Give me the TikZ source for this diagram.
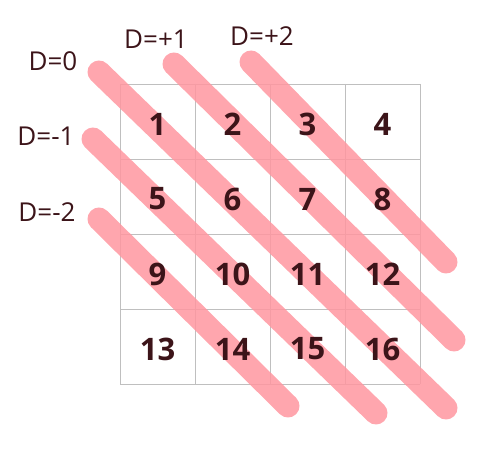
\documentclass[tikz,border=0pt]{standalone}
\usepackage{fontspec}
\setmainfont{Open Sans}
\definecolor{diagpink}{RGB}{255,150,160}
\definecolor{numcol}{RGB}{60,20,25}

\begin{document}
\begin{tikzpicture}[x=1pt,y=-1pt,
    diag/.style={diagpink,line width=23pt,line cap=round,opacity=0.85},
    num/.style={numcol,font=\fontsize{31}{37}\selectfont\bfseries},
    lab/.style={numcol,font=\fontsize{26}{31}\selectfont}]
  \useasboundingbox (0,0) rectangle (488,449);
  % grid of cells
  \foreach \k in {0,...,4} {
    \draw[gray!50] (120+75*\k,84) -- (120+75*\k,384);
    \draw[gray!50] (120,84+75*\k) -- (420,84+75*\k);
  }
  % diagonals
  \draw[diag] (99,72) -- (446,408);
  \draw[diag] (174,64) -- (454,340);
  \draw[diag] (251,62) -- (446,262);
  \draw[diag] (93,139) -- (376,413);
  \draw[diag] (99,219) -- (288,406);
  % numbers
  \foreach \r in {0,...,3} {
    \foreach \c in {0,...,3} {
      \pgfmathtruncatemacro\n{4*\r+\c+1}
      \node[num] (n\n) at (157.5+75*\c,124+75*\r) {\n};
    }
  }
  \node[lab] (dzero) at (53,61) {D=0};
  \node[lab] (dpone) at (156,39) {D=+1};
  \node[lab] (dptwo) at (262,36) {D=+2};
  \node[lab] (dmone) at (46,136) {D=-1};
  \node[lab] (dmtwo) at (47,212) {D=-2};
\end{tikzpicture}
\end{document}
